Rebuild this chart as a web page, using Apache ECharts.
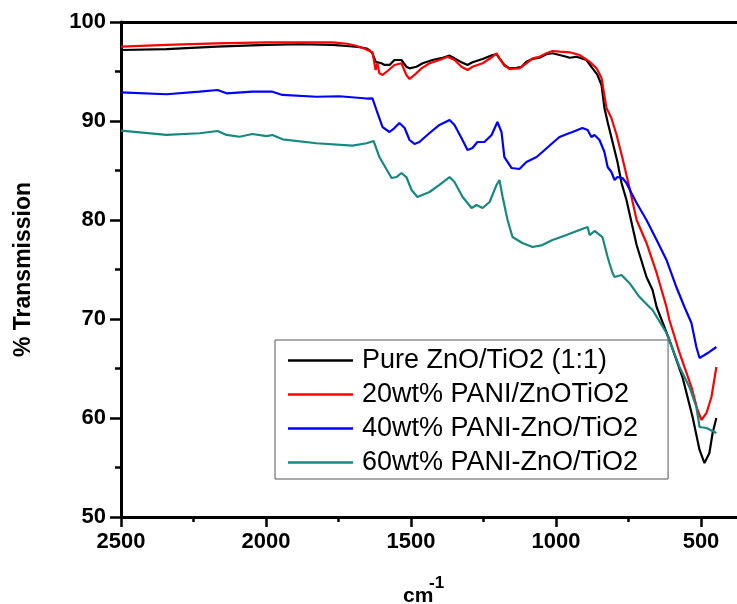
<!DOCTYPE html>
<html><head><meta charset="utf-8">
<script src="https://cdn.jsdelivr.net/npm/echarts@6/dist/echarts.min.js"></script>
<style>html,body{margin:0;padding:0;background:#fff}#c{width:737px;height:604px}</style>
</head><body><div id="c"></div>
<script>
const seriesNames = ['Pure ZnO/TiO2 (1:1)', '20wt% PANI/ZnOTiO2', '40wt% PANI-ZnO/TiO2', '60wt% PANI-ZnO/TiO2'];
const seriesColors = ['#000000', '#ff0000', '#0000ff', '#168880'];
const xTicks = [2500, 2000, 1500, 1000, 500];
const yTicks = [50, 60, 70, 80, 90, 100];

const pure = [[2500,97.17],[2343,97.27],[2171,97.51],[1998,97.68],[1884,97.75],[1771,97.68],[1712,97.55],[1675,97.45],[1653,97.32],[1643,97.15],[1633,96.84],[1622,95.99],[1616,96.16],[1602,95.83],[1591,95.66],[1574,95.66],[1557,96.16],[1533,96.16],[1516,95.48],[1505,95.32],[1481,95.48],[1460,95.83],[1426,96.16],[1391,96.39],[1367,96.60],[1350,96.33],[1326,95.93],[1305,95.66],[1288,95.93],[1253,96.26],[1219,96.67],[1205,96.74],[1195,96.33],[1178,95.66],[1160,95.32],[1136,95.38],[1119,95.48],[1102,95.99],[1081,96.26],[1057,96.39],[1033,96.74],[1012,96.84],[988,96.67],[964,96.49],[953,96.39],[929,96.49],[895,96.16],[874,95.32],[857,94.65],[843,93.64],[833,91.31],[822,89.90],[805,87.88],[788,85.86],[774,83.74],[757,82.02],[722,77.47],[688,74.24],[667,72.93],[653,71.21],[609,67.88],[564,64.14],[529,60.10],[505,56.77],[488,55.45],[471,56.46],[460,58.48],[447,60.0]];

const pani20 = [[2500,97.51],[2343,97.68],[2171,97.85],[1998,97.95],[1771,97.95],[1720,97.8],[1690,97.6],[1660,97.3],[1643,97.07],[1633,96.94],[1622,95.15],[1616,95.83],[1609,94.82],[1598,94.65],[1581,95.05],[1557,95.66],[1533,95.83],[1516,94.65],[1505,94.24],[1488,94.65],[1464,95.32],[1436,95.83],[1402,96.16],[1374,96.49],[1350,96.16],[1326,95.48],[1305,95.15],[1288,95.48],[1253,95.83],[1219,96.49],[1205,96.84],[1195,96.33],[1178,95.59],[1160,95.25],[1126,95.32],[1102,95.83],[1081,96.33],[1057,96.49],[1033,96.84],[1012,97.07],[988,97.00],[953,96.94],[919,96.67],[884,95.99],[860,95.32],[843,94.34],[826,91.31],[809,90.30],[791,88.59],[771,86.26],[747,83.3],[722,80.0],[688,77.68],[653,74.65],[619,71.21],[609,69.9],[574,66.57],[533,63.13],[512,60.81],[498,59.8],[481,60.51],[464,62.12],[447,65.15]];

const pani40 = [[2500,92.90],[2343,92.70],[2229,92.96],[2167,93.13],[2136,92.80],[2047,92.96],[1978,92.96],[1943,92.63],[1826,92.45],[1747,92.50],[1653,92.27],[1633,92.29],[1619,91.11],[1598,89.39],[1574,88.89],[1557,89.29],[1540,89.80],[1522,89.29],[1505,88.08],[1488,87.68],[1471,87.88],[1436,88.79],[1402,89.60],[1367,90.10],[1350,89.60],[1326,88.28],[1305,87.07],[1288,87.27],[1271,87.88],[1247,87.88],[1222,88.59],[1202,89.90],[1188,88.89],[1178,86.36],[1153,85.25],[1126,85.15],[1102,85.86],[1067,86.36],[1047,86.87],[1012,87.78],[988,88.38],[953,88.79],[943,88.89],[909,89.29],[891,89.09],[878,88.38],[867,88.59],[850,88.08],[833,86.87],[822,85.35],[809,84.85],[798,84.04],[788,84.34],[771,84.24],[757,83.74],[740,82.73],[722,81.72],[688,80.0],[653,77.98],[619,75.96],[585,73.23],[557,71.21],[533,69.6],[516,67.17],[505,66.06],[488,66.36],[471,66.67],[447,67.17]];

const pani60 = [[2500,89.02],[2343,88.59],[2229,88.76],[2167,88.99],[2136,88.59],[2091,88.41],[2047,88.69],[1998,88.48],[1978,88.59],[1943,88.15],[1826,87.75],[1702,87.51],[1653,87.75],[1629,87.98],[1609,86.36],[1567,84.24],[1550,84.34],[1533,84.75],[1516,84.34],[1498,83.03],[1478,82.32],[1436,82.83],[1402,83.54],[1367,84.34],[1350,83.84],[1322,82.32],[1291,81.21],[1274,81.52],[1253,81.21],[1229,81.82],[1205,83.54],[1195,84.04],[1184,82.32],[1167,80.0],[1150,78.28],[1116,77.68],[1081,77.27],[1047,77.47],[1012,77.98],[964,78.48],[919,78.99],[891,79.29],[884,78.48],[867,78.89],[840,78.28],[822,76.26],[816,75.66],[805,74.65],[798,74.24],[774,74.44],[747,73.64],[712,72.22],[678,71.21],[667,70.91],[619,68.59],[574,65.15],[540,63.13],[516,61.11],[505,59.09],[481,58.99],[447,58.48]];

const seriesData = [pure, pani20, pani40, pani60];
const FONT = '"Liberation Sans", Arial, sans-serif';

const chart = echarts.init(document.getElementById('c'));
chart.setOption({
  animation: false,
  backgroundColor: '#ffffff',
  grid: { left: 121, top: 22, width: 725, height: 495, containLabel: false, outerBoundsMode: 'none' },
  legend: {
    orient: 'vertical', left: 275, top: 340,
    data: seriesNames,
    icon: 'rect',
    borderColor: '#555', borderWidth: 1,
    padding: [7, 30, 3, 13],
    itemWidth: 65, itemHeight: 2.5, itemGap: 7,
    textStyle: { fontFamily: FONT, fontSize: 27, color: '#000', lineHeight: 27, padding: [0, 0, 0, 4] }
  },
  graphic: [
    { type: 'text', left: 403, top: 586, style: { text: 'cm', font: 'bold 21px ' + FONT, fill: '#000' } },
    { type: 'text', left: 429, top: 575, style: { text: '-1', font: 'bold 17px ' + FONT, fill: '#000' } }
  ],
  xAxis: [{
    type: 'value', inverse: true, min: 0, max: 2500, interval: 500,
    axisLine: { show: true, onZero: false, lineStyle: { color: '#000', width: 3 } },
    axisTick: { show: true, length: 10, lineStyle: { color: '#000', width: 2.5 } },
    minorTick: { show: true, splitNumber: 2, length: 5, lineStyle: { color: '#000', width: 2.5 } },
    splitLine: { show: false },
    axisLabel: { margin: 14, color: '#000', fontFamily: FONT, fontWeight: 'bold', fontSize: 22,
      formatter: v => (xTicks.indexOf(v) >= 0 ? String(v) : '') }
  }, {
    type: 'value', position: 'top', inverse: true, min: 0, max: 2500, interval: 500,
    axisLine: { show: true, onZero: false, lineStyle: { color: '#000', width: 3 } },
    axisTick: { show: false }, axisLabel: { show: false }, splitLine: { show: false }
  }],
  yAxis: {
    type: 'value', min: 50, max: 100, interval: 10,
    name: '% Transmission', nameLocation: 'middle', nameRotate: 90, nameGap: 86,
    nameTextStyle: { fontFamily: FONT, fontWeight: 'bold', fontSize: 23, color: '#000' },
    axisLine: { show: true, onZero: false, lineStyle: { color: '#000', width: 3 } },
    axisTick: { show: true, length: 11, lineStyle: { color: '#000', width: 2.5 } },
    minorTick: { show: true, splitNumber: 2, length: 6, lineStyle: { color: '#000', width: 2.5 } },
    splitLine: { show: false },
    axisLabel: { margin: 15, color: '#000', fontFamily: FONT, fontWeight: 'bold', fontSize: 22,
      formatter: v => (yTicks.indexOf(v) >= 0 ? String(v) : '') }
  },
  series: seriesNames.map((name, i) => ({
    name, type: 'line', xAxisIndex: 0, data: seriesData[i],
    symbol: 'none', smooth: false,
    lineStyle: { color: seriesColors[i], width: 2.2 },
    itemStyle: { color: seriesColors[i] }
  }))
});
</script>
</body></html>
